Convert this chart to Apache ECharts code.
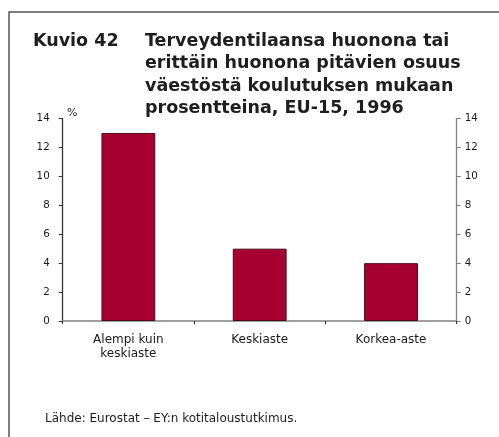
<!DOCTYPE html>
<html>
<head>
<meta charset="utf-8">
<script src="https://cdn.jsdelivr.net/npm/echarts@6/dist/echarts.min.js"></script>
<style>
html,body{margin:0;padding:0;background:#fff;}
#chart{width:499px;height:437px;}
</style>
</head>
<body>
<div id="chart"></div>
<script>
// Koulutusaste ja huonoksi koetun terveydentilan osuus (%)
const categories = ['Alempi kuin\nkeskiaste', 'Keskiaste', 'Korkea-aste'];
const values = [13, 5, 4];
const titleLines = [
  'Terveydentilaansa huonona tai',
  'erittäin huonona pitävien osuus',
  'väestöstä koulutuksen mukaan',
  'prosentteina, EU-15, 1996'
];
const figureLabel = 'Kuvio 42';
const sourceText = 'Lähde: Eurostat – EY:n kotitaloustutkimus.';
const unitLabel = '%';

const chart = echarts.init(document.getElementById('chart'));
const font = 'DejaVu Sans';
const axisGrey = '#808080';

const yAxis = (position, lineColor, margin) => ({
  type: 'value', min: 0, max: 14, interval: 2, position: position,
  axisLine: { show: true, lineStyle: { color: lineColor, width: 1.3 } },
  axisTick: { show: true, length: 4, lineStyle: { color: lineColor } },
  splitLine: { show: false },
  axisLabel: { fontFamily: font, fontSize: 10.3, color: '#1a1a1a', margin: margin }
});

const textStyle = (text, size, weight) => ({
  text: text, fontFamily: font, fontSize: size, fontWeight: weight, fill: '#1e1e1e'
});

const graphics = [
  // outer frame
  { type: 'rect', shape: { x: 9, y: 12, width: 600, height: 500 },
    style: { fill: 'none', stroke: '#555', lineWidth: 1.5 } },
  { type: 'text', left: 33, top: 32, style: textStyle(figureLabel, 17.5, 'bold') },
  { type: 'text', left: 67, top: 108, style: textStyle(unitLabel, 11, 'normal') },
  { type: 'text', left: 45, top: 413, style: textStyle(sourceText, 12, 'normal') }
];
titleLines.forEach((t, i) => {
  graphics.push({ type: 'text', left: 145, top: 32 + i * 22.5,
    style: textStyle(t, 17.5, 'bold') });
});

chart.setOption({
  animation: false,
  backgroundColor: '#fff',
  grid: { left: 62.7, right: 42.3, top: 118.5, bottom: 116 },
  xAxis: {
    type: 'category', data: categories,
    axisLine: { show: true, lineStyle: { color: axisGrey, width: 1.5 } },
    axisTick: { show: true, length: 3, lineStyle: { color: '#333' } },
    axisLabel: { fontFamily: font, fontSize: 12, color: '#1a1a1a', margin: 12, lineHeight: 14 }
  },
  yAxis: [yAxis('left', '#333', 13), yAxis('right', axisGrey, 8)],
  series: [{
    type: 'bar', data: values, barWidth: '41%', yAxisIndex: 0,
    itemStyle: { color: '#A5002F', borderColor: '#4a0a1a', borderWidth: 1 }
  }],
  graphic: graphics
});
</script>
</body>
</html>
